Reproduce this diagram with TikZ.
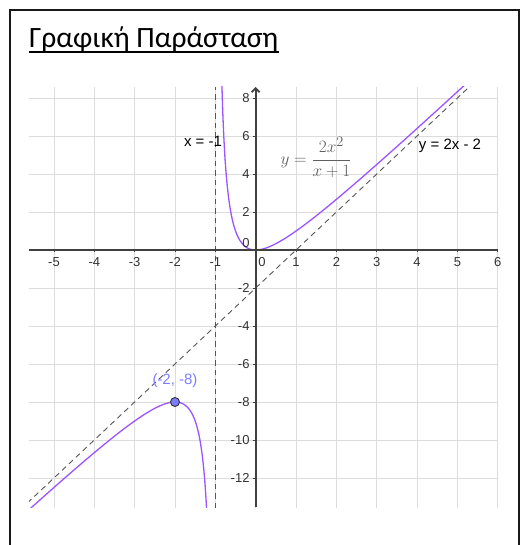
\documentclass[tikz,border=0pt]{standalone}
\usepackage{fontspec}
\usepackage{amsmath}
\usepackage{xcolor}
\usepackage{tikz}
\usetikzlibrary{positioning, arrows.meta}

\newfontfamily\titlefont{Carlito}
\newfontfamily\labelfont{Liberation Sans}

\definecolor{curvecol}{RGB}{155,85,255}
\definecolor{axiscol}{RGB}{64,64,64}
\definecolor{gridcol}{RGB}{220,220,220}
\definecolor{asymcol}{RGB}{85,85,85}
\definecolor{pointcol}{RGB}{125,125,255}
\definecolor{formulacol}{RGB}{95,95,95}

\begin{document}
\begin{tikzpicture}[
    x=1pt, y=1pt,
    frame/.style={line width=2pt, draw=black!90},
    gridline/.style={draw=gridcol, line width=0.9pt},
    axis/.style={draw=axiscol, line width=1.8pt},
    asymptote/.style={draw=asymcol, line width=0.9pt, dash pattern=on 5.5pt off 4pt},
    curve/.style={draw=curvecol, line width=1.3pt},
    ticklabel/.style={font=\labelfont\fontsize{13}{13}\selectfont, text=black!80, inner sep=0pt},
    eqlabel/.style={font=\labelfont\fontsize{15}{15}\selectfont, inner sep=0pt}
]

    \useasboundingbox (0,0) rectangle (525,545);

    % Frame and title
    \draw[frame] (10,-5) -- (10,535) -- (519,535) -- (519,-5);
    \node[anchor=base west, inner sep=0pt, font=\titlefont\fontsize{29.5}{29.5}\selectfont] (title) at (29,497) {Γραφική Παράσταση};
    \draw[line width=1.6pt] ([yshift=-4pt]title.base west) -- ([yshift=-4pt]title.base east);

    % Graph
    \begin{scope}[shift={(255.7,295)}, x=40.35pt, y=19pt]
        \begin{scope}
            \clip (-5.62,-13.53) rectangle (6.0,8.58);

            % Grid
            \foreach \i in {-5,...,6}
                \draw[gridline] (\i,-13.6) -- (\i,8.6);
            \foreach \j in {-12,-10,...,8}
                \draw[gridline] (-5.7,\j) -- (6.1,\j);

            % Asymptotes
            \draw[asymptote] (-1,-13.6) -- (-1,8.6);
            \draw[asymptote] (-6,-14) -- (6,10);

            % Function
            \draw[curve] plot[domain=-5.7:-1.2, samples=150, smooth] (\x,{2*\x*\x/(\x+1)});
            \draw[curve] plot[domain=-0.85:5.3, samples=200, smooth] (\x,{2*\x*\x/(\x+1)});
        \end{scope}

        % Axes
        \draw[axis] (-5.62,0) -- (6.0,0);
        \draw[axis, -{Straight Barb[length=4pt, width=8pt]}] (0,-13.53) -- (0,8.58);

        % Ticks and labels
        \foreach \i in {-5,...,-1,1,2,...,6} {
            \draw[axiscol, line width=0.8pt] (\i,0) -- ++(0,-2.5pt);
            \node[ticklabel] (xl\i) at ([yshift=-12pt]\i,0) {\i};
        }
        \foreach \j in {-12,-10,...,-2,2,4,...,8} {
            \draw[axiscol, line width=0.8pt] (0,\j) -- ++(-2.5pt,0);
            \node[ticklabel, anchor=east] (yl\j) at ([xshift=-6pt]0,\j) {\j};
        }
        \node[ticklabel] (xzero) at (6.3pt,-12pt) {0};
        \node[ticklabel] (yzero) at (-9.7pt,7pt) {0};

        % Labels
        \node[eqlabel] (vasym) at (-1.306,5.74) {x = -1};
        \node[eqlabel] (oasym) at (4.815,5.47) {y = 2x - 2};
        \node[text=formulacol, inner sep=0pt, font=\fontsize{19}{19}\selectfont] (formula) at (1.494,4.89)
            {$\displaystyle y=\frac{2x^2}{x+1}$};

        % Extremum
        \node[circle, fill=pointcol, draw=black!80, line width=0.9pt, minimum size=9pt, inner sep=0pt] (peak) at (-2,-8) {};
        \node[eqlabel, text=pointcol, above=9pt of peak] (peaklabel) {(-2, -8)};
    \end{scope}

\end{tikzpicture}
\end{document}
